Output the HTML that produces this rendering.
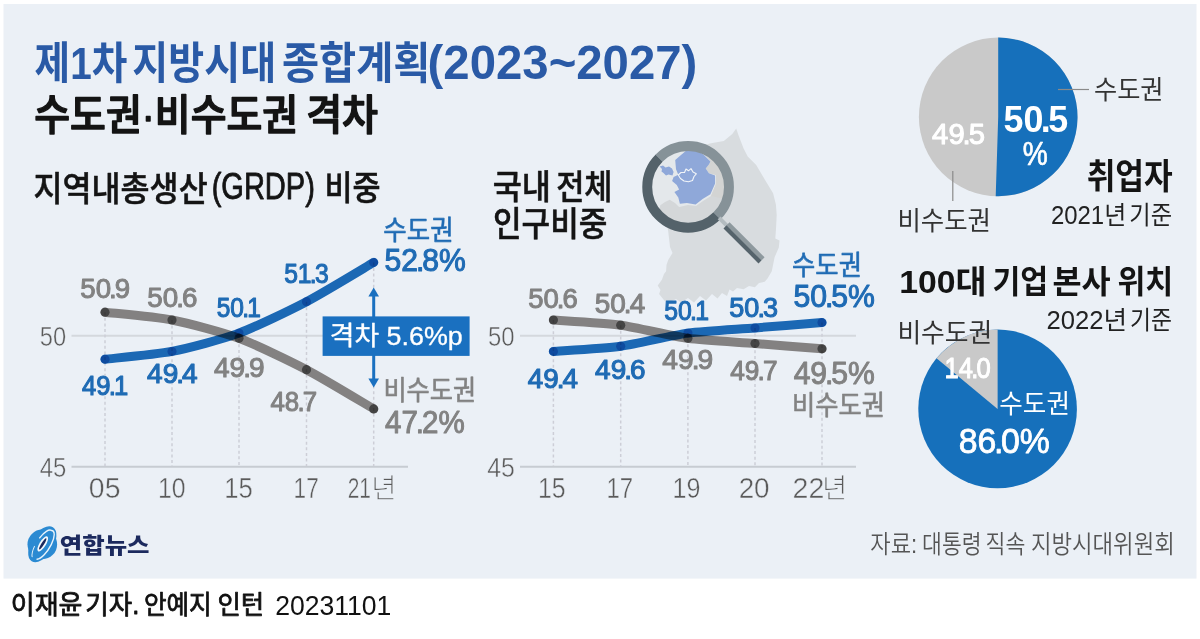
<!DOCTYPE html>
<html lang="ko"><head><meta charset="utf-8"><title>제1차 지방시대 종합계획</title>
<style>html,body{margin:0;padding:0;background:#fff}body{width:1200px;height:639px;overflow:hidden}svg{display:block}text{font-family:'Liberation Sans','Noto Sans CJK KR',sans-serif;white-space:pre}</style></head>
<body>
<svg width="1200" height="639" viewBox="0 0 1200 639">
<rect x="0" y="0" width="1200" height="639" fill="#ffffff"/>
<rect x="3.5" y="4" width="1193" height="574.6" fill="#ebf0f6"/>

<g id="map">
<path d="M736.2,128.5 L738.6,135.5 L743.5,148.2 L747.7,156.6 L756.2,165.1 L764.6,179.2 L773.1,193.2 L775.9,204.5 L776.7,215 L776,229 L775.3,238.5 L779.5,240.5 L778.8,247.4 L774.6,257.3 L771.8,271.3 L767.5,278.4 L764.7,281.8 L759,283 L754.9,287.2 L749,286 L743.6,289.2 L737,288 L733,291.5 L729.5,289.6 L727,296 L722,293 L717.5,298.5 L712,294 L706,300.5 L700,296 L694,302.5 L688,298 L681,302.5 L676,299 L670,302 L664.7,300.9 L661.5,297 L659.1,293.9 L660.5,290 L657.7,285.4 L661.9,279.8 L664,274 L666.1,271.3 L666.5,265 L668.2,260 L672.5,253 L670,247 L669.6,243.2 L668.2,231.2 L667,225 L663,217 L666,211 L660.3,205.3 L665,202 L669.7,199.8 L675,203 L679,198 L675,192 L679,189.5 L676.8,185 L672,181 L673.6,177 L678,174.8 L676,169.3 L675.2,160 L680.7,155.2 L690,147.4 L700,146 L711,143.2 L723.8,141.1 L732.3,134.1 Z" fill="#d8dcdf"/>
<clipPath id="lens"><circle cx="688.1" cy="186.9" r="37"/></clipPath>
<g clip-path="url(#lens)">
<circle cx="688.1" cy="186.9" r="37" fill="#e4e8eb"/>
<path d="M660.3,205.3 L665,202 L669.7,199.8 L675,203 L679.1,206.9 L688,205 L696,206 L703,201 L711,196 L716,184 L716,175 L712,173 L730,170 L730,230 L655,230 Z" fill="#d4d7d9"/>
<path d="M704,154 L712,150 L730,148 L730,200 L711,196 L716,184 L716,175 L709,173.2 L705.7,168.5 L709,164.6 L710.4,161.5 Z" fill="#d3d4d3"/>
<path d="M690.1,147.4 L697.9,150.5 L704.2,155.2 L710.4,161.5 L708.9,164.6 L705.7,168.5 L708.9,173.2 L715.1,175.6 L715.1,183.4 L710.4,194.3 L702.6,199 L695.6,204.5 L686.9,202.9 L679.9,203.7 L678.3,197.5 L674.4,192 L679.1,189.6 L676.8,184.9 L672.1,181 L673.6,177.1 L678.3,174.8 L676,169.3 L675.2,159.9 L680.7,155.2 Z" fill="#8fa8d9"/>
<path d="M659.6,166.5 L663,165.4 L665.5,167.5 L669,166.5 L672,168.5 L673.6,172 L672.5,175.6 L668.5,174.5 L666,175.5 L663.5,173 L661.5,171.5 L662,169 Z" fill="#8fa8d9"/>
<path d="M686,169 L688.5,170.8 L691,168.6 L693,172 L696.3,173.8 L694,176.5 L692.5,180.5 L688.5,181.8 L684,181 L680.5,178.5 L678.3,175 L681,172.5 L684.5,172.5 Z" fill="none" stroke="#f2f5f8" stroke-width="1.1" stroke-linejoin="round"/>
</g>
<path d="M659.2,158 A40.85,40.85 0 0 0 717,215.8" fill="none" stroke="#54626a" stroke-width="9.9"/>
<path d="M659.2,158 A40.85,40.85 0 0 1 717,215.8" fill="none" stroke="#869298" stroke-width="9.9"/>
<g transform="translate(717,215.8) rotate(45)">
<rect x="3" y="-2" width="12" height="4" fill="#b4bcc0"/>
<rect x="13.5" y="-4.3" width="49.5" height="4.3" fill="#8e999e"/>
<rect x="13.5" y="0" width="49.5" height="4.3" fill="#55636b"/>
</g>
</g>
<line x1="71.5" y1="335.7" x2="408" y2="335.7" stroke="#d4d8dd" stroke-width="2.1"/><line x1="71.5" y1="466.7" x2="408" y2="466.7" stroke="#c7ccd2" stroke-width="2"/><line x1="105" y1="312.2" x2="105" y2="466" stroke="#cdced7" stroke-width="1.5" stroke-dasharray="3 2.6"/><line x1="172" y1="320" x2="172" y2="466" stroke="#cdced7" stroke-width="1.5" stroke-dasharray="3 2.6"/><line x1="239" y1="333.1" x2="239" y2="466" stroke="#cdced7" stroke-width="1.5" stroke-dasharray="3 2.6"/><line x1="306.5" y1="301.7" x2="306.5" y2="466" stroke="#cdced7" stroke-width="1.5" stroke-dasharray="3 2.6"/><line x1="373.7" y1="262.4" x2="373.7" y2="466" stroke="#cdced7" stroke-width="1.5" stroke-dasharray="3 2.6"/><g style="mix-blend-mode:multiply"><path d="M105.00,312.20 C113.04,313.14 155.92,316.87 172.00,320.00 C188.08,323.13 222.86,332.34 239.00,338.30 C255.14,344.26 290.34,361.23 306.50,369.70 C322.66,378.17 365.64,404.20 373.70,408.90" fill="none" stroke="#8e8986" stroke-width="9" stroke-linecap="round" stroke-linejoin="round"/><circle cx="105" cy="312.2" r="4.6" fill="#858585" style="mix-blend-mode:multiply"/><circle cx="172" cy="320" r="4.6" fill="#858585" style="mix-blend-mode:multiply"/><circle cx="239" cy="338.3" r="4.6" fill="#858585" style="mix-blend-mode:multiply"/><circle cx="306.5" cy="369.7" r="4.6" fill="#858585" style="mix-blend-mode:multiply"/><circle cx="373.7" cy="408.9" r="4.6" fill="#858585" style="mix-blend-mode:multiply"/></g><g style="mix-blend-mode:multiply"><path d="M105.00,359.20 C113.04,358.26 155.92,354.53 172.00,351.40 C188.08,348.27 222.86,339.06 239.00,333.10 C255.14,327.14 290.34,310.18 306.50,301.70 C322.66,293.22 365.64,267.12 373.70,262.40" fill="none" stroke="#1d6ebb" stroke-width="9" stroke-linecap="round" stroke-linejoin="round"/><circle cx="105" cy="359.2" r="4.6" fill="#80b8e2" style="mix-blend-mode:multiply"/><circle cx="172" cy="351.4" r="4.6" fill="#80b8e2" style="mix-blend-mode:multiply"/><circle cx="239" cy="333.1" r="4.6" fill="#80b8e2" style="mix-blend-mode:multiply"/><circle cx="306.5" cy="301.7" r="4.6" fill="#80b8e2" style="mix-blend-mode:multiply"/><circle cx="373.7" cy="262.4" r="4.6" fill="#80b8e2" style="mix-blend-mode:multiply"/></g><line x1="373.7" y1="292" x2="373.7" y2="383" stroke="#1a70c0" stroke-width="3"/><path d="M373.7,287.5 L379,296.5 L368.4,296.5 Z" fill="#1a70c0"/><path d="M373.7,387.5 L379,378.5 L368.4,378.5 Z" fill="#1a70c0"/><rect x="322.6" y="316.4" width="147" height="39.5" fill="#1a70c0"/><line x1="520" y1="335.7" x2="856" y2="335.7" stroke="#d4d8dd" stroke-width="2.1"/><line x1="520" y1="466.7" x2="856" y2="466.7" stroke="#c7ccd2" stroke-width="2"/><line x1="553.4" y1="320" x2="553.4" y2="466" stroke="#cdced7" stroke-width="1.5" stroke-dasharray="3 2.6"/><line x1="620.7" y1="325.2" x2="620.7" y2="466" stroke="#cdced7" stroke-width="1.5" stroke-dasharray="3 2.6"/><line x1="687.9" y1="333.1" x2="687.9" y2="466" stroke="#cdced7" stroke-width="1.5" stroke-dasharray="3 2.6"/><line x1="755" y1="327.9" x2="755" y2="466" stroke="#cdced7" stroke-width="1.5" stroke-dasharray="3 2.6"/><line x1="822" y1="322.6" x2="822" y2="466" stroke="#cdced7" stroke-width="1.5" stroke-dasharray="3 2.6"/><g style="mix-blend-mode:multiply"><path d="M553.40,320.00 C561.48,320.62 604.56,323.00 620.70,325.20 C636.84,327.40 671.78,336.10 687.90,338.30 C704.02,340.50 738.91,342.24 755.00,343.50 C771.09,344.76 813.96,348.16 822.00,348.80" fill="none" stroke="#8e8986" stroke-width="9" stroke-linecap="round" stroke-linejoin="round"/><circle cx="553.4" cy="320" r="4.6" fill="#858585" style="mix-blend-mode:multiply"/><circle cx="620.7" cy="325.2" r="4.6" fill="#858585" style="mix-blend-mode:multiply"/><circle cx="687.9" cy="338.3" r="4.6" fill="#858585" style="mix-blend-mode:multiply"/><circle cx="755" cy="343.5" r="4.6" fill="#858585" style="mix-blend-mode:multiply"/><circle cx="822" cy="348.8" r="4.6" fill="#858585" style="mix-blend-mode:multiply"/></g><g style="mix-blend-mode:multiply"><path d="M553.40,351.40 C561.48,350.78 604.56,348.40 620.70,346.20 C636.84,344.00 671.78,335.30 687.90,333.10 C704.02,330.90 738.91,329.16 755.00,327.90 C771.09,326.64 813.96,323.24 822.00,322.60" fill="none" stroke="#1d6ebb" stroke-width="9" stroke-linecap="round" stroke-linejoin="round"/><circle cx="553.4" cy="351.4" r="4.6" fill="#80b8e2" style="mix-blend-mode:multiply"/><circle cx="620.7" cy="346.2" r="4.6" fill="#80b8e2" style="mix-blend-mode:multiply"/><circle cx="687.9" cy="333.1" r="4.6" fill="#80b8e2" style="mix-blend-mode:multiply"/><circle cx="755" cy="327.9" r="4.6" fill="#80b8e2" style="mix-blend-mode:multiply"/><circle cx="822" cy="322.6" r="4.6" fill="#80b8e2" style="mix-blend-mode:multiply"/></g><circle cx="998.2" cy="116.9" r="79.3" fill="#c9c9c9"/><path d="M998.2,116.9 L998.20,37.60 A79.3,79.3 0 1 1 995.71,196.16 Z" fill="#1670bb"/><line x1="1058" y1="89.5" x2="1089" y2="89.5" stroke="#8a8a8a" stroke-width="1.2"/><line x1="952.8" y1="171" x2="952.8" y2="201" stroke="#8a8a8a" stroke-width="1.2"/><circle cx="997.6" cy="408.9" r="79.3" fill="#1670bb"/><path d="M997.6,408.9 L936.50,358.35 A79.3,79.3 0 0 1 997.60,329.60 Z" fill="#c9c9c9"/>
<g id="logoemb">
<circle cx="42.3" cy="544.4" r="14.8" fill="#2b8ad2"/>
<g transform="translate(42.3,544.2) rotate(-58)">
<ellipse cx="0" cy="0" rx="20" ry="11" fill="#2b8ad2"/>
<path d="M-15.5,3.5 A16.5,6.2 0 0 0 16.5,0.5 A16.5,6.2 0 0 0 4,-5.6" fill="none" stroke="#e8f3fb" stroke-width="1.4" stroke-linecap="round"/>
<path d="M-16,-2 A16.5,6.2 0 0 1 -6,-5.5" fill="none" stroke="#e8f3fb" stroke-width="1" stroke-linecap="round"/>
<ellipse cx="0.5" cy="0.2" rx="8.8" ry="3.2" fill="#f4f9fd"/>
<ellipse cx="0.5" cy="0.2" rx="6.6" ry="1.4" fill="#1c2a5e"/>
</g>
</g>

<g id="texts">
<text font-size="10"><tspan id="t1a" x="34.58" y="79.31" font-size="44.38" font-weight="700" fill="#2a5aa6" textLength="92.70" lengthAdjust="spacingAndGlyphs">제1차</tspan> <tspan id="t1b" x="132.35" y="79.31" font-size="44.38" font-weight="700" fill="#2a5aa6" textLength="143.72" lengthAdjust="spacingAndGlyphs">지방시대</tspan> <tspan id="t1c" x="282.00" y="79.43" font-size="44.38" font-weight="700" fill="#2a5aa6" textLength="148.50" lengthAdjust="spacingAndGlyphs">종합계획</tspan><tspan id="t1d" x="427.62" y="78.62" font-size="48.21" font-weight="700" fill="#2a5aa6" textLength="269.75" lengthAdjust="spacingAndGlyphs">(2023~2027)</tspan></text>
<text font-size="10"><tspan id="t2a" x="34.25" y="130.29" font-size="41.82" font-weight="500" fill="#141414" stroke="#141414" stroke-width="1.5" stroke-linejoin="round" textLength="263.96" lengthAdjust="spacingAndGlyphs">수도권·비수도권</tspan> <tspan id="t2b" x="306.13" y="130.26" font-size="41.82" font-weight="500" fill="#141414" stroke="#141414" stroke-width="1.5" stroke-linejoin="round" textLength="71.89" lengthAdjust="spacingAndGlyphs">격차</tspan></text>
<text font-size="10"><tspan id="t3a" x="33.49" y="200.62" font-size="34.28" font-weight="500" fill="#141414" stroke="#141414" stroke-width="0.5" stroke-linejoin="round" textLength="174.19" lengthAdjust="spacingAndGlyphs">지역내총생산</tspan><tspan id="t3b" x="211.63" y="199.18" font-size="37.49" font-weight="400" fill="#141414" stroke="#141414" stroke-width="0.9" stroke-linejoin="round" textLength="103.25" lengthAdjust="spacingAndGlyphs">(GRDP)</tspan> <tspan id="t3c" x="324.51" y="200.33" font-size="34.28" font-weight="500" fill="#141414" stroke="#141414" stroke-width="0.5" stroke-linejoin="round" textLength="56.08" lengthAdjust="spacingAndGlyphs">비중</tspan></text>
<text font-size="10"><tspan id="t4a" x="492.68" y="198.79" font-size="34.28" font-weight="500" fill="#141414" stroke="#141414" stroke-width="0.5" stroke-linejoin="round" textLength="58.31" lengthAdjust="spacingAndGlyphs">국내</tspan> <tspan id="t4b" x="556.14" y="198.79" font-size="34.28" font-weight="500" fill="#141414" stroke="#141414" stroke-width="0.5" stroke-linejoin="round" textLength="56.47" lengthAdjust="spacingAndGlyphs">전체</tspan></text>
<text id="t5" x="492.92" y="235.78" font-size="34.28" font-weight="500" fill="#141414" stroke="#141414" stroke-width="0.5" stroke-linejoin="round" textLength="114.58" lengthAdjust="spacingAndGlyphs">인구비중</text>
<text id="a50" x="39.75" y="346.01" font-size="27.41" font-weight="300" fill="#5a5a5a" stroke="#ebf0f6" stroke-width="0.45" class="er" textLength="26.34" lengthAdjust="spacingAndGlyphs">50</text>
<text id="a45" x="39.65" y="476.77" font-size="27.41" font-weight="300" fill="#5a5a5a" stroke="#ebf0f6" stroke-width="0.45" class="er" textLength="26.58" lengthAdjust="spacingAndGlyphs">45</text>
<text id="a509" x="80.28" y="298.29" font-size="27.25" font-weight="400" fill="#828282" stroke="#828282" stroke-width="1.0" stroke-linejoin="round" textLength="49.91" lengthAdjust="spacingAndGlyphs">50<tspan dx="-0.07em">.</tspan><tspan dx="-0.07em">9</tspan></text>
<text id="a506" x="147.28" y="306.66" font-size="27.25" font-weight="400" fill="#828282" stroke="#828282" stroke-width="1.0" stroke-linejoin="round" textLength="50.14" lengthAdjust="spacingAndGlyphs">50<tspan dx="-0.07em">.</tspan><tspan dx="-0.07em">6</tspan></text>
<text id="a501" x="216.69" y="316.74" font-size="26.78" font-weight="400" fill="#1f6bb4" stroke="#1f6bb4" stroke-width="1.1" stroke-linejoin="round" textLength="44.27" lengthAdjust="spacingAndGlyphs">50<tspan dx="-0.07em">.</tspan><tspan dx="-0.07em">1</tspan></text>
<text id="a513" x="284.15" y="283.27" font-size="26.78" font-weight="400" fill="#1f6bb4" stroke="#1f6bb4" stroke-width="1.1" stroke-linejoin="round" textLength="44.53" lengthAdjust="spacingAndGlyphs">51<tspan dx="-0.07em">.</tspan><tspan dx="-0.07em">3</tspan></text>
<text id="a491" x="82.00" y="395.38" font-size="26.78" font-weight="400" fill="#1f6bb4" stroke="#1f6bb4" stroke-width="1.1" stroke-linejoin="round" textLength="46.31" lengthAdjust="spacingAndGlyphs">49<tspan dx="-0.07em">.</tspan><tspan dx="-0.07em">1</tspan></text>
<text id="a494" x="147.13" y="383.04" font-size="26.78" font-weight="400" fill="#1f6bb4" stroke="#1f6bb4" stroke-width="1.1" stroke-linejoin="round" textLength="50.58" lengthAdjust="spacingAndGlyphs">49<tspan dx="-0.07em">.</tspan><tspan dx="-0.07em">4</tspan></text>
<text id="a499" x="214.00" y="377.16" font-size="27.25" font-weight="400" fill="#828282" stroke="#828282" stroke-width="1.0" stroke-linejoin="round" textLength="50.68" lengthAdjust="spacingAndGlyphs">49<tspan dx="-0.07em">.</tspan><tspan dx="-0.07em">9</tspan></text>
<text id="a487" x="270.49" y="410.60" font-size="27.25" font-weight="400" fill="#828282" stroke="#828282" stroke-width="1.0" stroke-linejoin="round" textLength="46.66" lengthAdjust="spacingAndGlyphs">48<tspan dx="-0.07em">.</tspan><tspan dx="-0.07em">7</tspan></text>
<text id="asd" x="383.31" y="239.63" font-size="27.32" font-weight="400" fill="#1f6bb4" stroke="#1f6bb4" stroke-width="0.6" stroke-linejoin="round" textLength="70.27" lengthAdjust="spacingAndGlyphs">수도권</text>
<text id="a528" x="384.59" y="271.27" font-size="32.25" font-weight="400" fill="#1f6bb4" stroke="#1f6bb4" stroke-width="1.1" stroke-linejoin="round" textLength="81.09" lengthAdjust="spacingAndGlyphs">52<tspan dx="-0.07em">.</tspan><tspan dx="-0.07em">8%</tspan></text>
<text id="abox" x="329.80" y="344.74" font-size="26.15" font-weight="400" fill="#ffffff" stroke="#ffffff" stroke-width="0.35" stroke-linejoin="round" textLength="132.85" lengthAdjust="spacingAndGlyphs">격차 5.6%p</text>
<text id="abs" x="383.39" y="399.90" font-size="27.32" font-weight="400" fill="#828282" stroke="#828282" stroke-width="0.6" stroke-linejoin="round" textLength="92.74" lengthAdjust="spacingAndGlyphs">비수도권</text>
<text id="a472" x="385.03" y="432.96" font-size="31.48" font-weight="400" fill="#828282" stroke="#828282" stroke-width="1.0" stroke-linejoin="round" textLength="79.64" lengthAdjust="spacingAndGlyphs">47<tspan dx="-0.07em">.</tspan><tspan dx="-0.07em">2%</tspan></text>
<text id="ax1" x="88.87" y="498.08" font-size="29.73" font-weight="300" fill="#5a5a5a" stroke="#ebf0f6" stroke-width="0.45" class="er" textLength="31.58" lengthAdjust="spacingAndGlyphs">05</text>
<text id="ax2" x="158.08" y="498.08" font-size="29.73" font-weight="300" fill="#5a5a5a" stroke="#ebf0f6" stroke-width="0.45" class="er" textLength="27.58" lengthAdjust="spacingAndGlyphs">10</text>
<text id="ax3" x="224.25" y="497.75" font-size="29.73" font-weight="300" fill="#5a5a5a" stroke="#ebf0f6" stroke-width="0.45" class="er" textLength="28.53" lengthAdjust="spacingAndGlyphs">15</text>
<text id="ax4" x="293.62" y="498.13" font-size="29.73" font-weight="300" fill="#5a5a5a" stroke="#ebf0f6" stroke-width="0.45" class="er" textLength="25.04" lengthAdjust="spacingAndGlyphs">17</text>
<text font-size="10"><tspan id="ax5" x="347.72" y="498.11" font-size="29.73" font-weight="300" fill="#5a5a5a" stroke="#ebf0f6" stroke-width="0.45" class="er" textLength="23.29" lengthAdjust="spacingAndGlyphs">21</tspan><tspan id="ax5k" x="371.45" y="497.78" font-size="27.67" font-weight="300" fill="#5a5a5a" stroke="#ebf0f6" stroke-width="0.25" class="er" textLength="24.87" lengthAdjust="spacingAndGlyphs">년</tspan></text>
<text id="b50" x="487.91" y="346.01" font-size="27.41" font-weight="300" fill="#5a5a5a" stroke="#ebf0f6" stroke-width="0.45" class="er" textLength="26.55" lengthAdjust="spacingAndGlyphs">50</text>
<text id="b45" x="487.28" y="476.77" font-size="27.41" font-weight="300" fill="#5a5a5a" stroke="#ebf0f6" stroke-width="0.45" class="er" textLength="27.67" lengthAdjust="spacingAndGlyphs">45</text>
<text id="b506" x="528.19" y="307.80" font-size="27.25" font-weight="400" fill="#828282" stroke="#828282" stroke-width="1.0" stroke-linejoin="round" textLength="49.63" lengthAdjust="spacingAndGlyphs">50<tspan dx="-0.07em">.</tspan><tspan dx="-0.07em">6</tspan></text>
<text id="b504" x="594.79" y="312.87" font-size="27.25" font-weight="400" fill="#828282" stroke="#828282" stroke-width="1.0" stroke-linejoin="round" textLength="50.42" lengthAdjust="spacingAndGlyphs">50<tspan dx="-0.07em">.</tspan><tspan dx="-0.07em">4</tspan></text>
<text id="b501" x="664.18" y="320.48" font-size="26.78" font-weight="400" fill="#1f6bb4" stroke="#1f6bb4" stroke-width="1.1" stroke-linejoin="round" textLength="44.78" lengthAdjust="spacingAndGlyphs">50<tspan dx="-0.07em">.</tspan><tspan dx="-0.07em">1</tspan></text>
<text id="b503" x="729.28" y="317.14" font-size="26.78" font-weight="400" fill="#1f6bb4" stroke="#1f6bb4" stroke-width="1.1" stroke-linejoin="round" textLength="48.80" lengthAdjust="spacingAndGlyphs">50<tspan dx="-0.07em">.</tspan><tspan dx="-0.07em">3</tspan></text>
<text id="b494" x="527.73" y="387.61" font-size="26.78" font-weight="400" fill="#1f6bb4" stroke="#1f6bb4" stroke-width="1.1" stroke-linejoin="round" textLength="50.24" lengthAdjust="spacingAndGlyphs">49<tspan dx="-0.07em">.</tspan><tspan dx="-0.07em">4</tspan></text>
<text id="b496" x="595.13" y="378.51" font-size="26.78" font-weight="400" fill="#1f6bb4" stroke="#1f6bb4" stroke-width="1.1" stroke-linejoin="round" textLength="50.43" lengthAdjust="spacingAndGlyphs">49<tspan dx="-0.07em">.</tspan><tspan dx="-0.07em">6</tspan></text>
<text id="b499" x="662.36" y="368.60" font-size="27.25" font-weight="400" fill="#828282" stroke="#828282" stroke-width="1.0" stroke-linejoin="round" textLength="50.92" lengthAdjust="spacingAndGlyphs">49<tspan dx="-0.07em">.</tspan><tspan dx="-0.07em">9</tspan></text>
<text id="b497" x="730.26" y="379.80" font-size="27.25" font-weight="400" fill="#828282" stroke="#828282" stroke-width="1.0" stroke-linejoin="round" textLength="47.39" lengthAdjust="spacingAndGlyphs">49<tspan dx="-0.07em">.</tspan><tspan dx="-0.07em">7</tspan></text>
<text id="bsd" x="792.09" y="275.49" font-size="27.32" font-weight="400" fill="#1f6bb4" stroke="#1f6bb4" stroke-width="0.6" stroke-linejoin="round" textLength="69.87" lengthAdjust="spacingAndGlyphs">수도권</text>
<text id="b505" x="793.45" y="307.45" font-size="32.25" font-weight="400" fill="#1f6bb4" stroke="#1f6bb4" stroke-width="1.1" stroke-linejoin="round" textLength="81.36" lengthAdjust="spacingAndGlyphs">50<tspan dx="-0.07em">.</tspan><tspan dx="-0.07em">5%</tspan></text>
<text id="b495" x="793.63" y="383.65" font-size="31.48" font-weight="400" fill="#828282" stroke="#828282" stroke-width="1.0" stroke-linejoin="round" textLength="81.17" lengthAdjust="spacingAndGlyphs">49<tspan dx="-0.07em">.</tspan><tspan dx="-0.07em">5%</tspan></text>
<text id="bbs" x="792.02" y="415.12" font-size="27.32" font-weight="400" fill="#828282" stroke="#828282" stroke-width="0.6" stroke-linejoin="round" textLength="92.93" lengthAdjust="spacingAndGlyphs">비수도권</text>
<text id="bx1" x="538.08" y="497.75" font-size="29.73" font-weight="300" fill="#5a5a5a" stroke="#ebf0f6" stroke-width="0.45" class="er" textLength="27.58" lengthAdjust="spacingAndGlyphs">15</text>
<text id="bx2" x="606.46" y="498.13" font-size="29.73" font-weight="300" fill="#5a5a5a" stroke="#ebf0f6" stroke-width="0.45" class="er" textLength="26.71" lengthAdjust="spacingAndGlyphs">17</text>
<text id="bx3" x="672.59" y="498.08" font-size="29.73" font-weight="300" fill="#5a5a5a" stroke="#ebf0f6" stroke-width="0.45" class="er" textLength="27.96" lengthAdjust="spacingAndGlyphs">19</text>
<text id="bx4" x="738.63" y="498.08" font-size="29.73" font-weight="300" fill="#5a5a5a" stroke="#ebf0f6" stroke-width="0.45" class="er" textLength="30.98" lengthAdjust="spacingAndGlyphs">20</text>
<text font-size="10"><tspan id="bx5" x="792.62" y="498.11" font-size="29.73" font-weight="300" fill="#5a5a5a" stroke="#ebf0f6" stroke-width="0.45" class="er" textLength="31.76" lengthAdjust="spacingAndGlyphs">22</tspan><tspan id="bx5k" x="822.15" y="497.78" font-size="27.67" font-weight="300" fill="#5a5a5a" stroke="#ebf0f6" stroke-width="0.25" class="er" textLength="24.88" lengthAdjust="spacingAndGlyphs">년</tspan></text>
<text id="p505" x="1003.46" y="132.01" font-size="36.72" font-weight="700" fill="#ffffff" textLength="64.71" lengthAdjust="spacingAndGlyphs">50<tspan dx="-0.07em">.</tspan><tspan dx="-0.07em">5</tspan></text>
<text id="ppc" x="1022.66" y="164.81" font-size="33.41" font-weight="400" fill="#ffffff" stroke="#ffffff" stroke-width="0.7" stroke-linejoin="round" textLength="25.05" lengthAdjust="spacingAndGlyphs">%</text>
<text id="p495" x="932.13" y="143.80" font-size="28.77" font-weight="400" fill="#ffffff" stroke="#ffffff" stroke-width="1.0" stroke-linejoin="round" textLength="52.82" lengthAdjust="spacingAndGlyphs">49<tspan dx="-0.07em">.</tspan><tspan dx="-0.07em">5</tspan></text>
<text id="psd" x="1093.95" y="99.42" font-size="25.84" font-weight="400" fill="#333333" textLength="69.65" lengthAdjust="spacingAndGlyphs">수도권</text>
<text id="pbs" x="897.38" y="230.29" font-size="25.84" font-weight="400" fill="#333333" textLength="93.57" lengthAdjust="spacingAndGlyphs">비수도권</text>
<text id="pjob" x="1086.63" y="189.16" font-size="35.01" font-weight="700" fill="#141414" textLength="86.05" lengthAdjust="spacingAndGlyphs">취업자</text>
<text font-size="10"><tspan id="p2021a" x="1050.95" y="224.17" font-size="25.36" font-weight="400" fill="#222222" textLength="75.25" lengthAdjust="spacingAndGlyphs">2021년</tspan> <tspan id="p2021b" x="1129.33" y="224.09" font-size="25.36" font-weight="400" fill="#222222" textLength="42.73" lengthAdjust="spacingAndGlyphs">기준</tspan></text>
<text font-size="10"><tspan id="q100a" x="899.24" y="293.43" font-size="32.14" font-weight="700" fill="#141414" textLength="87.44" lengthAdjust="spacingAndGlyphs">100대</tspan> <tspan id="q100b" x="992.42" y="293.43" font-size="32.14" font-weight="700" fill="#141414" textLength="55.83" lengthAdjust="spacingAndGlyphs">기업</tspan> <tspan id="q100c" x="1052.49" y="293.43" font-size="32.14" font-weight="700" fill="#141414" textLength="58.20" lengthAdjust="spacingAndGlyphs">본사</tspan> <tspan id="q100d" x="1117.42" y="293.43" font-size="32.14" font-weight="700" fill="#141414" textLength="55.85" lengthAdjust="spacingAndGlyphs">위치</tspan></text>
<text font-size="10"><tspan id="q2022a" x="1046.47" y="329.00" font-size="25.36" font-weight="400" fill="#222222" textLength="80.49" lengthAdjust="spacingAndGlyphs">2022년</tspan> <tspan id="q2022b" x="1130.09" y="328.78" font-size="25.36" font-weight="400" fill="#222222" textLength="41.98" lengthAdjust="spacingAndGlyphs">기준</tspan></text>
<text id="qbs" x="897.39" y="341.79" font-size="25.84" font-weight="400" fill="#333333" textLength="94.95" lengthAdjust="spacingAndGlyphs">비수도권</text>
<text id="q140" x="944.61" y="378.38" font-size="28.77" font-weight="400" fill="#ffffff" stroke="#ffffff" stroke-width="1.0" stroke-linejoin="round" textLength="46.12" lengthAdjust="spacingAndGlyphs">14<tspan dx="-0.07em">.</tspan><tspan dx="-0.07em">0</tspan></text>
<text id="qsd" x="999.33" y="412.73" font-size="25.84" font-weight="400" fill="#ffffff" textLength="70.63" lengthAdjust="spacingAndGlyphs">수도권</text>
<text id="q860" x="958.74" y="452.59" font-size="34.43" font-weight="400" fill="#ffffff" stroke="#ffffff" stroke-width="0.8" stroke-linejoin="round" textLength="91.08" lengthAdjust="spacingAndGlyphs">86<tspan dx="-0.07em">.</tspan><tspan dx="-0.07em">0%</tspan></text>
<text id="logo" x="59.84" y="552.87" font-size="21.98" font-weight="900" fill="#1c2a5e" textLength="89.71" lengthAdjust="spacingAndGlyphs">연합뉴스</text>
<text font-size="10"><tspan id="srca" x="870.30" y="553.34" font-size="24.92" font-weight="350" fill="#555555" textLength="46.87" lengthAdjust="spacingAndGlyphs">자료:</tspan> <tspan id="srcb" x="922.08" y="553.34" font-size="24.92" font-weight="350" fill="#555555" textLength="59.47" lengthAdjust="spacingAndGlyphs">대통령</tspan> <tspan id="srcc" x="985.58" y="553.34" font-size="24.92" font-weight="350" fill="#555555" textLength="39.76" lengthAdjust="spacingAndGlyphs">직속</tspan> <tspan id="srcd" x="1030.99" y="553.34" font-size="24.92" font-weight="350" fill="#555555" textLength="143.74" lengthAdjust="spacingAndGlyphs">지방시대위원회</tspan></text>
<text font-size="10"><tspan id="cap1a" x="10.75" y="614.00" font-size="26.71" font-weight="400" fill="#111111" stroke="#111111" stroke-width="0.8" stroke-linejoin="round" textLength="71.66" lengthAdjust="spacingAndGlyphs">이재윤</tspan> <tspan id="cap1b" x="85.29" y="614.00" font-size="26.71" font-weight="400" fill="#111111" stroke="#111111" stroke-width="0.8" stroke-linejoin="round" textLength="53.98" lengthAdjust="spacingAndGlyphs">기자.</tspan> <tspan id="cap1c" x="143.91" y="614.00" font-size="26.71" font-weight="400" fill="#111111" stroke="#111111" stroke-width="0.8" stroke-linejoin="round" textLength="67.80" lengthAdjust="spacingAndGlyphs">안예지</tspan> <tspan id="cap1d" x="217.43" y="614.33" font-size="26.71" font-weight="400" fill="#111111" stroke="#111111" stroke-width="0.8" stroke-linejoin="round" textLength="46.73" lengthAdjust="spacingAndGlyphs">인턴</tspan> <tspan id="cap2" x="275.14" y="615.01" font-size="28.07" font-weight="400" fill="#111111" textLength="116.26" lengthAdjust="spacingAndGlyphs">20231101</tspan></text>
</g>
</svg>
</body></html>
